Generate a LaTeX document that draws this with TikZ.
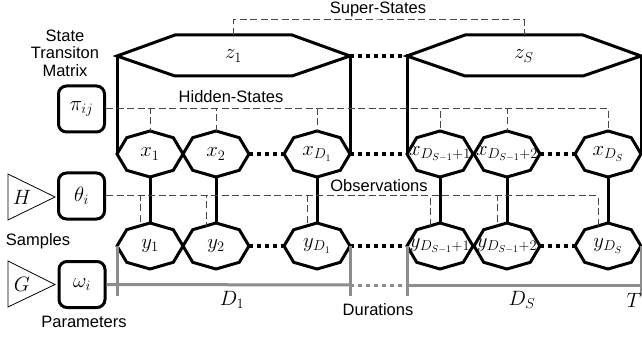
\documentclass[tikz,border=0pt]{standalone}
\usepackage{fontspec}
\setmainfont{Liberation Sans}
\tikzset{
  blk/.style={line width=3pt, line join=miter},
  dotblk/.style={line width=3.2pt, dash pattern=on 3.5pt off 4.5pt},
  dashln/.style={line width=1pt, draw=black!72, dash pattern=on 7pt off 3.5pt},
  grayln/.style={line width=3pt, draw=black!45},
  graydot/.style={grayln, dash pattern=on 3.5pt off 4.5pt},
  lbl/.style={font=\fontsize{16.5}{17.5}\selectfont, inner sep=0pt},
  mlbl/.style={font=\fontsize{20}{21}\selectfont, inner sep=0pt},
  rbox/.style={draw, line width=3pt, rounded corners=8pt, minimum width=46pt,
    minimum height=46pt, inner sep=0pt, font=\fontsize{20}{21}\selectfont},
  tri/.style={line width=0.8pt}
}
\newcommand\octn[4]{%
  \node[mlbl] (#1) at (#2,#3) {$#4$};
  \begin{scope}[shift={(#2,#3)}]
    \coordinate (#1-l) at (-33,0);
    \coordinate (#1-r) at (33,0);
    \coordinate (#1-t) at (0,-23);
    \coordinate (#1-b) at (0,23);
    \coordinate (#1-o) at (-10,-20);
    \draw[blk] (-33,0) -- (-23.3,-16.3) -- (0,-23) -- (23.3,-16.3) -- (33,0)
      -- (23.3,16.3) -- (0,23) -- (-23.3,16.3) -- cycle;
  \end{scope}}
\begin{document}
\begin{tikzpicture}[x=1pt,y=-1pt]
\useasboundingbox (0,0) rectangle (642,339);

% super-states
\node[mlbl] (z1) at (233.5,56) {$z_1$};
\coordinate (z1-l) at (117,56); \coordinate (z1-r) at (350,56);
\coordinate (z1-t) at (233.5,35);
\draw[blk] (z1-l) -- (175,35) -- (292,35) -- (z1-r) -- (292,76) -- (175,76) -- cycle;
\node[mlbl] (zS) at (524,56) {$z_S$};
\coordinate (zS-l) at (407,56); \coordinate (zS-r) at (641,56);
\coordinate (zS-t) at (524,35);
\draw[blk] (zS-l) -- (465,35) -- (583,35) -- (zS-r) -- (583,76) -- (465,76) -- cycle;
\draw[dotblk] (z1-r) -- (zS-l);

% hidden states
\octn{x1}{150}{154}{x_1}
\octn{x2}{216}{154}{x_2}
\octn{xD1}{317}{154}{x_{D_1}}
\octn{xa}{440}{154}{x_{D_{S-1}+1}}
\octn{xb}{507}{154}{x_{D_{S-1}+2}}
\octn{xS}{608}{154}{x_{D_S}}

% observations
\octn{y1}{150}{246}{y_1}
\octn{y2}{216}{246}{y_2}
\octn{yD1}{317}{246}{y_{D_1}}
\octn{ya}{440}{246}{y_{D_{S-1}+1}}
\octn{yb}{507}{246}{y_{D_{S-1}+2}}
\octn{yS}{608}{246}{y_{D_S}}

% z to x
\draw[blk] (z1-l) -- (x1-l);
\draw[blk] (z1-r) -- (xD1-r);
\draw[blk] (zS-l) -- (xa-l);
\draw[blk] (zS-r) -- (xS-r);

% x to y
\foreach \i in {1,2,D1,a,b,S} { \draw[blk] (x\i-b) -- (y\i-t); }

% dotted chains
\draw[dotblk] (x2-r) -- (xD1-l);
\draw[dotblk] (xD1-r) -- (xa-l);
\draw[dotblk] (xb-r) -- (xS-l);
\draw[dotblk] (y2-r) -- (yD1-l);
\draw[dotblk] (yD1-r) -- (ya-l);
\draw[dotblk] (yb-r) -- (yS-l);

% left boxes
\node[rbox] (pi) at (81.5,109) {$\pi_{ij}$};
\node[rbox] (theta) at (81.5,196) {$\theta_i$};
\node[rbox] (omega) at (82,284.5) {$\omega_i$};

% triangles
\coordinate (hA) at (8,174); \coordinate (hB) at (55,197); \coordinate (hC) at (8,220);
\draw[tri] (hA) -- (hB) -- (hC) -- cycle;
\node[mlbl] (H) at (22,197) {$H$};
\coordinate (gA) at (8,261); \coordinate (gB) at (55,284.5); \coordinate (gC) at (8,307);
\draw[tri] (gA) -- (gB) -- (gC) -- cycle;
\node[mlbl] (G) at (22,284.5) {$G$};

% dashed relations
\coordinate (ss) at (378,20);
\draw[dashln] (z1-t) |- (ss) -| (zS-t);
\foreach \i in {1,2,D1,a,b,S} { \draw[dashln] (pi.east) -| (x\i-t); }
\foreach \i in {1,2,D1,a,b,S} { \draw[dashln] (theta.east) -| (y\i-o); }

% durations
\coordinate (d1) at (350,285); \coordinate (d2) at (407,285); \coordinate (dT) at (641,285);
\coordinate (t1) at (117,296); \coordinate (t2) at (350,296);
\coordinate (t3) at (407,296); \coordinate (t4) at (641,296);
\draw[grayln] (omega.east) -- (d1);
\draw[graydot] (d1) -- (d2);
\draw[grayln] (d2) -- (dT);
\draw[grayln] (y1-l) -- (t1);
\draw[grayln] (yD1-r) -- (t2);
\draw[grayln] (ya-l) -- (t3);
\draw[grayln] (yS-r) -- (t4);
\node[mlbl] (D1) at (232,300) {$D_1$};
\node[mlbl] (DS) at (522,300) {$D_S$};
\node[mlbl] (T) at (634,300) {$T$};

% labels
\node[lbl] (sslbl) at (378,9) {Super-States};
\node[lbl] (hslbl) at (231,97) {Hidden-States};
\node[lbl] (oblbl) at (379,186) {Observations};
\node[lbl] (durlbl) at (378,310) {Durations};
\node[lbl] (smplbl) at (38,241) {Samples};
\node[lbl] (parlbl) at (84,322) {Parameters};
\node[lbl, align=center] (stmlbl) at (65,53) {State\\Transiton\\Matrix};
\end{tikzpicture}
\end{document}
